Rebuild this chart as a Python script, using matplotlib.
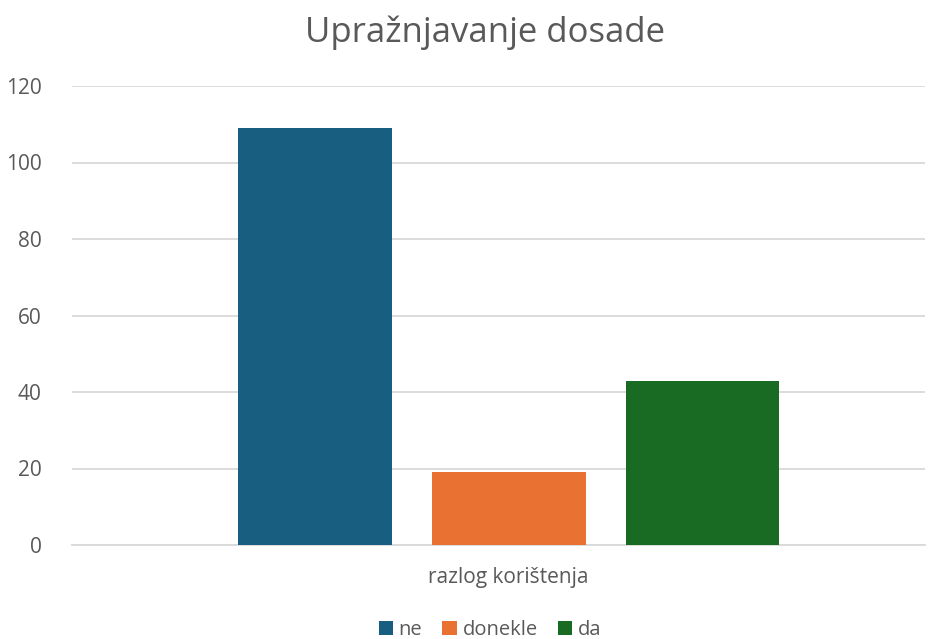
import numpy as np
import matplotlib.pyplot as plt

plt.rcParams['font.family'] = ['Open Sans', 'DejaVu Sans']

category = "razlog korištenja"
series = ["ne", "donekle", "da"]
values = [109, 19, 43]
colors = ["#175E80", "#E97132", "#196B24"]
yticks = [0, 20, 40, 60, 80, 100, 120]

text_col = "#595959"
grid_col = "#D9D9D9"

fig = plt.figure(figsize=(9.37, 6.39), dpi=100)
ax = fig.add_axes([72/937, 1-545/639, (925-72)/937, (545-86)/639])

width = 0.18
step = 0.2274
offsets = (np.arange(len(series)) - 1) * step
for off, v, c, name in zip(offsets, values, colors, series):
    ax.bar(off, v, width=width, color=c, label=name, zorder=3)

ax.set_xlim(-0.512, 0.488)
ax.set_ylim(0, 120)
ax.set_yticks(yticks)
ax.set_xticks([0])
ax.set_xticklabels([category])
ax.grid(axis="y", color=grid_col, linewidth=1.3, zorder=0)
for s in ["top", "right", "left"]:
    ax.spines[s].set_visible(False)
ax.spines["bottom"].set_color(grid_col)
ax.spines["bottom"].set_linewidth(1.3)
ax.tick_params(axis="both", length=0, labelsize=15, colors=text_col)
ax.tick_params(axis="x", pad=16)
ax.tick_params(axis="y", pad=22)

fig.suptitle("Upražnjavanje dosade", x=0.518, y=0.975, fontsize=25, color=text_col)

fig.legend(loc="lower center", bbox_to_anchor=(0.523, -0.03), ncol=3, frameon=False,
           fontsize=14.5, labelcolor=text_col, handlelength=0.7, handleheight=0.7,
           handletextpad=0.3, columnspacing=1.0)

fig.savefig("out.png", dpi=100)
